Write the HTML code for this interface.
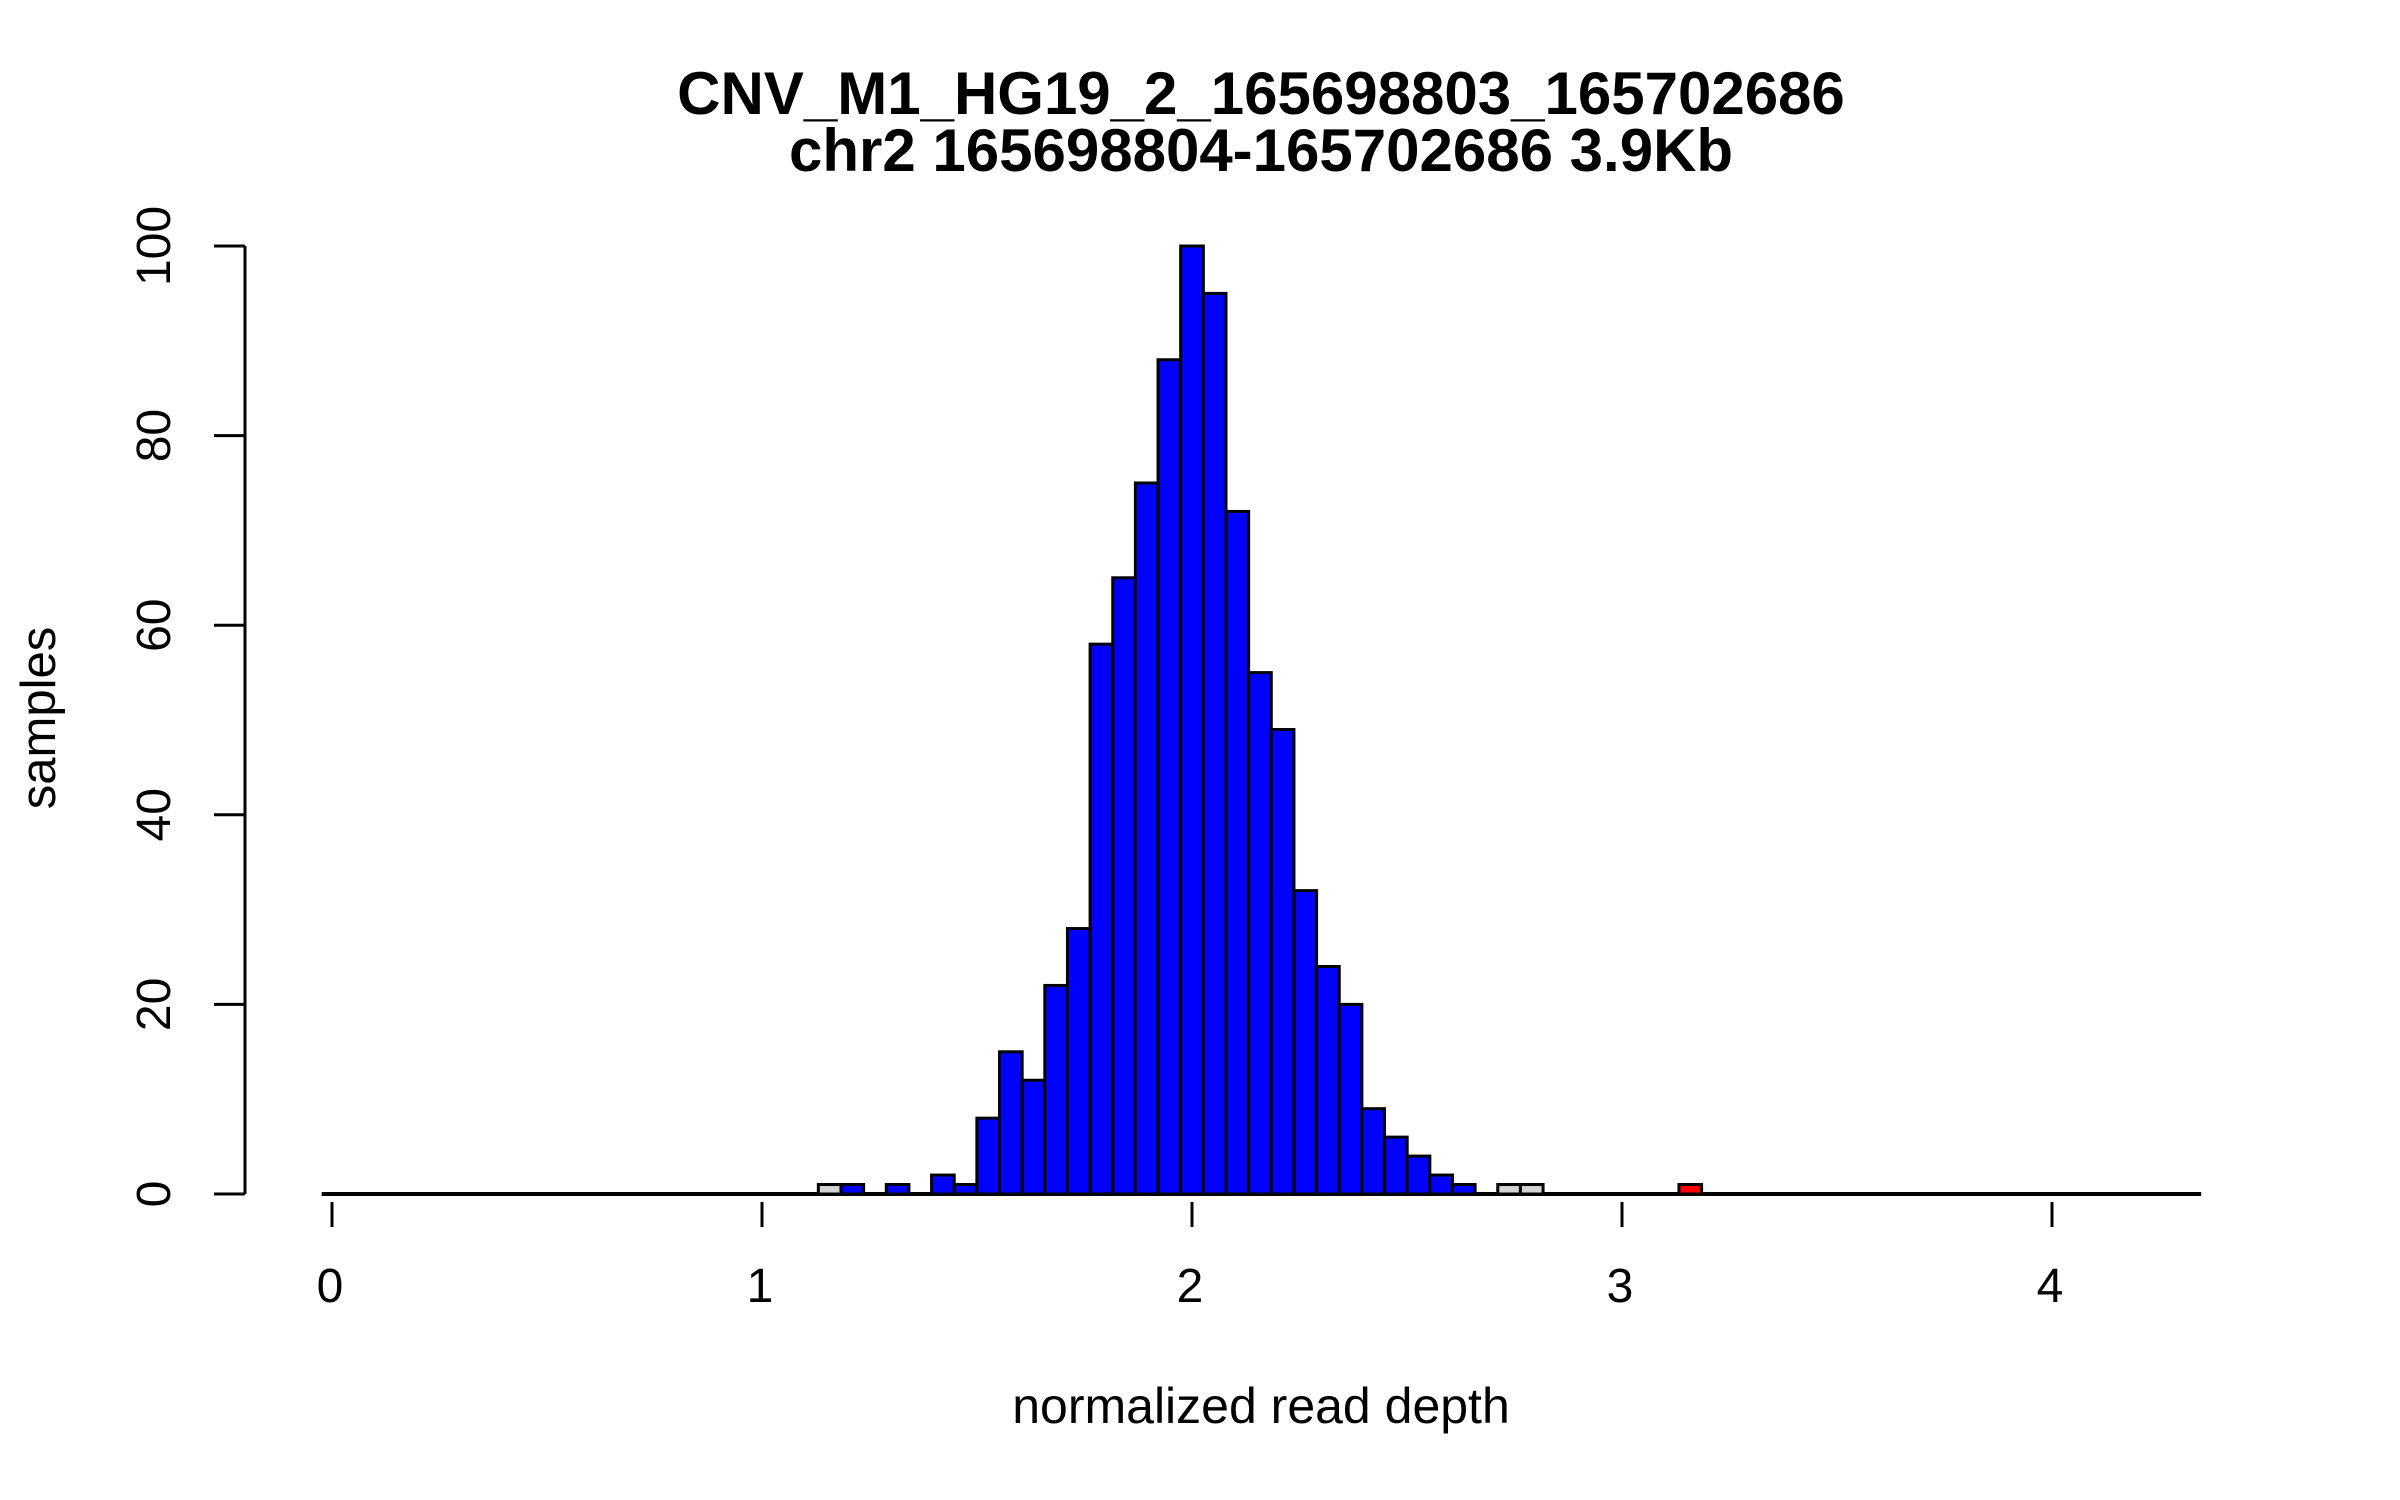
<!DOCTYPE html>
<html><head><meta charset="utf-8"><style>
html,body{margin:0;padding:0;background:#fff;}
svg{display:block;font-family:"Liberation Sans",Arial,sans-serif;}
</style></head><body>
<svg id="chart" width="2400" height="1500" viewBox="0 0 2400 1500" xmlns="http://www.w3.org/2000/svg">
<rect x="0" y="0" width="2400" height="1500" fill="#fff"/>
<text x="1261" y="114" text-anchor="middle" font-size="60" font-weight="bold">CNV_M1_HG19_2_165698803_165702686</text>
<text x="1261" y="171" text-anchor="middle" font-size="60" font-weight="bold">chr2 165698804-165702686 3.9Kb</text>
<text x="1261" y="1423" text-anchor="middle" font-size="50">normalized read depth</text>
<text transform="translate(55,718) rotate(-90)" text-anchor="middle" font-size="49">samples</text>
<g id="bars"></g>
<g id="axes"></g>
</svg>
<script>
const binStart = 1.131;
const binWidth = 0.05267;
const counts = [1,1,0,1,0,2,1,8,15,12,22,28,58,65,75,88,100,95,72,55,49,32,24,20,9,6,4,2,1,0,1,1,0,0,0,0,0,0,1];
const binColors = ["grey","blue","blue","blue","blue","blue","blue","blue","blue","blue","blue","blue","blue","blue","blue","blue","blue","blue","blue","blue","blue","blue","blue","blue","blue","blue","blue","blue","blue","grey","grey","grey","grey","grey","grey","grey","grey","grey","red"];
const xTicks = [0,1,2,3,4];
const yTicks = [0,20,40,60,80,100];
const xRange = [-0.024, 4.347];

const NS = "http://www.w3.org/2000/svg";
function xs(u){ return 332 + 430*u; }
function ys(v){ return 1194 - 9.48*v; }
const fillMap = {grey:"#d3d3d3", blue:"#0000ff", red:"#ff0000"};

const bars = document.getElementById('bars');
const base = document.createElementNS(NS,'line');
base.setAttribute('x1', xs(xRange[0])); base.setAttribute('x2', xs(xRange[1]));
base.setAttribute('y1', ys(0)); base.setAttribute('y2', ys(0));
base.setAttribute('stroke','#000'); base.setAttribute('stroke-width','4');


bars.appendChild(base);

counts.forEach((c,i)=>{
  if(c<=0) return;
  const x0 = xs(binStart + i*binWidth), x1 = xs(binStart + (i+1)*binWidth);
  const r = document.createElementNS(NS,'rect');
  r.setAttribute('x', x0); r.setAttribute('width', x1-x0);
  r.setAttribute('y', ys(c)); r.setAttribute('height', ys(0)-ys(c));
  r.setAttribute('fill', fillMap[binColors[i]]);
  r.setAttribute('stroke','#000'); r.setAttribute('stroke-width','3');
  
  
  bars.appendChild(r);
});

const axes = document.getElementById('axes');
function mk(tag, attrs){ const e=document.createElementNS(NS,tag); for(const k in attrs) e.setAttribute(k, attrs[k]); return e; }
const yl = mk('line',{x1:245,x2:245,y1:ys(0),y2:ys(100),stroke:'#000','stroke-width':3});


axes.appendChild(yl);
yTicks.forEach(v=>{
  const t = mk('line',{x1:214,x2:245,y1:ys(v),y2:ys(v),stroke:'#000','stroke-width':3});
  
  
  axes.appendChild(t);
  const l = mk('text',{transform:`translate(170,${ys(v)}) rotate(-90)`,'text-anchor':'middle','font-size':48});
  l.textContent = v;
  
  
  axes.appendChild(l);
});
xTicks.forEach(u=>{
  const t = mk('line',{x1:xs(u),x2:xs(u),y1:1202,y2:1227,stroke:'#000','stroke-width':3});
  
  
  axes.appendChild(t);
  const l = mk('text',{x:xs(u)-2,y:1302,'text-anchor':'middle','font-size':48});
  l.textContent = u;
  
  
  axes.appendChild(l);
});
</script>
</body></html>
